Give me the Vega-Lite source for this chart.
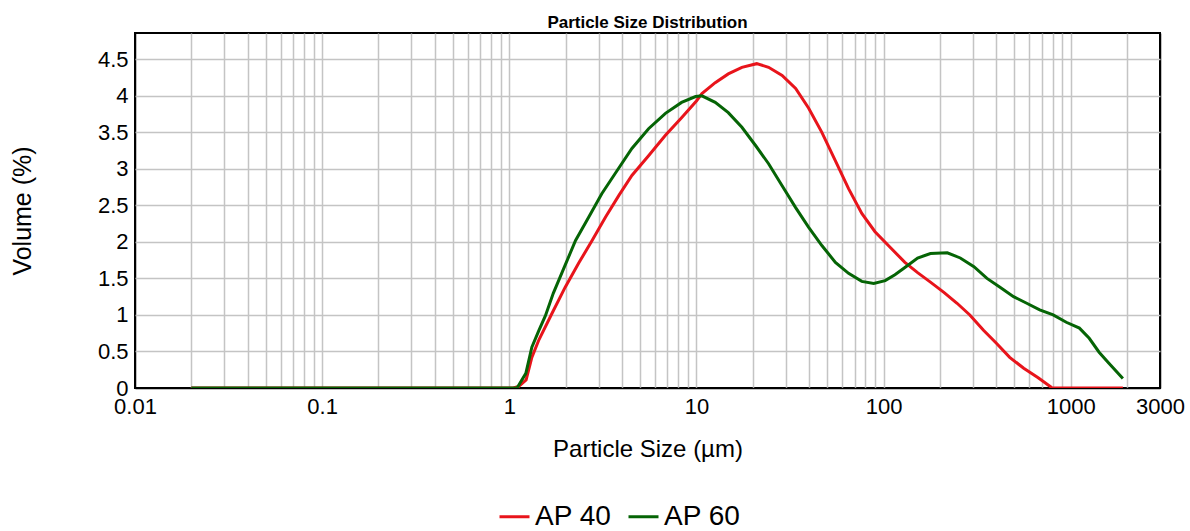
{
  "$schema": "https://vega.github.io/schema/vega-lite/v6.json",
  "width": 1025,
  "height": 355,
  "autosize": {"type": "none"},
  "padding": {"left": 135, "top": 33, "right": 30, "bottom": 143},
  "background": "#ffffff",
  "title": {"text": "Particle Size Distribution", "fontSize": 17, "fontWeight": "bold", "font": "Liberation Sans", "color": "#000000", "offset": 1, "frame": "group", "anchor": "middle"},
  "data": {"values": [
    {"size": 0.02, "volume": 0, "sample": "AP 40"},
    {"size": 1.05, "volume": 0, "sample": "AP 40"},
    {"size": 1.12, "volume": 0.02, "sample": "AP 40"},
    {"size": 1.23, "volume": 0.11, "sample": "AP 40"},
    {"size": 1.32, "volume": 0.42, "sample": "AP 40"},
    {"size": 1.44, "volume": 0.66, "sample": "AP 40"},
    {"size": 1.69, "volume": 1.02, "sample": "AP 40"},
    {"size": 1.99, "volume": 1.38, "sample": "AP 40"},
    {"size": 2.35, "volume": 1.71, "sample": "AP 40"},
    {"size": 2.77, "volume": 2.02, "sample": "AP 40"},
    {"size": 3.27, "volume": 2.34, "sample": "AP 40"},
    {"size": 3.86, "volume": 2.64, "sample": "AP 40"},
    {"size": 4.52, "volume": 2.91, "sample": "AP 40"},
    {"size": 5.55, "volume": 3.18, "sample": "AP 40"},
    {"size": 6.83, "volume": 3.46, "sample": "AP 40"},
    {"size": 8.33, "volume": 3.70, "sample": "AP 40"},
    {"size": 10.0, "volume": 3.93, "sample": "AP 40"},
    {"size": 10.7, "volume": 4.03, "sample": "AP 40"},
    {"size": 12.6, "volume": 4.18, "sample": "AP 40"},
    {"size": 14.8, "volume": 4.30, "sample": "AP 40"},
    {"size": 17.5, "volume": 4.39, "sample": "AP 40"},
    {"size": 21.0, "volume": 4.44, "sample": "AP 40"},
    {"size": 24.3, "volume": 4.39, "sample": "AP 40"},
    {"size": 28.7, "volume": 4.28, "sample": "AP 40"},
    {"size": 33.9, "volume": 4.10, "sample": "AP 40"},
    {"size": 39.8, "volume": 3.83, "sample": "AP 40"},
    {"size": 46.8, "volume": 3.50, "sample": "AP 40"},
    {"size": 55.3, "volume": 3.11, "sample": "AP 40"},
    {"size": 65.0, "volume": 2.73, "sample": "AP 40"},
    {"size": 76.5, "volume": 2.39, "sample": "AP 40"},
    {"size": 90, "volume": 2.14, "sample": "AP 40"},
    {"size": 110, "volume": 1.91, "sample": "AP 40"},
    {"size": 130, "volume": 1.72, "sample": "AP 40"},
    {"size": 152, "volume": 1.58, "sample": "AP 40"},
    {"size": 178, "volume": 1.45, "sample": "AP 40"},
    {"size": 210, "volume": 1.31, "sample": "AP 40"},
    {"size": 247, "volume": 1.16, "sample": "AP 40"},
    {"size": 289, "volume": 1.00, "sample": "AP 40"},
    {"size": 342, "volume": 0.79, "sample": "AP 40"},
    {"size": 402, "volume": 0.61, "sample": "AP 40"},
    {"size": 472, "volume": 0.42, "sample": "AP 40"},
    {"size": 561, "volume": 0.27, "sample": "AP 40"},
    {"size": 670, "volume": 0.14, "sample": "AP 40"},
    {"size": 787, "volume": 0.01, "sample": "AP 40"},
    {"size": 800, "volume": 0, "sample": "AP 40"},
    {"size": 1900, "volume": 0, "sample": "AP 40"},
    {"size": 0.02, "volume": 0, "sample": "AP 60"},
    {"size": 1.05, "volume": 0, "sample": "AP 60"},
    {"size": 1.1, "volume": 0, "sample": "AP 60"},
    {"size": 1.226, "volume": 0.2, "sample": "AP 60"},
    {"size": 1.32, "volume": 0.56, "sample": "AP 60"},
    {"size": 1.44, "volume": 0.79, "sample": "AP 60"},
    {"size": 1.56, "volume": 0.99, "sample": "AP 60"},
    {"size": 1.72, "volume": 1.3, "sample": "AP 60"},
    {"size": 1.95, "volume": 1.63, "sample": "AP 60"},
    {"size": 2.26, "volume": 2.02, "sample": "AP 60"},
    {"size": 2.66, "volume": 2.34, "sample": "AP 60"},
    {"size": 3.12, "volume": 2.66, "sample": "AP 60"},
    {"size": 3.71, "volume": 2.95, "sample": "AP 60"},
    {"size": 4.52, "volume": 3.28, "sample": "AP 60"},
    {"size": 5.55, "volume": 3.55, "sample": "AP 60"},
    {"size": 6.83, "volume": 3.76, "sample": "AP 60"},
    {"size": 8.33, "volume": 3.91, "sample": "AP 60"},
    {"size": 9.9, "volume": 3.99, "sample": "AP 60"},
    {"size": 10.7, "volume": 4.0, "sample": "AP 60"},
    {"size": 12.6, "volume": 3.91, "sample": "AP 60"},
    {"size": 14.8, "volume": 3.77, "sample": "AP 60"},
    {"size": 17.5, "volume": 3.57, "sample": "AP 60"},
    {"size": 20.7, "volume": 3.32, "sample": "AP 60"},
    {"size": 24.3, "volume": 3.07, "sample": "AP 60"},
    {"size": 28.7, "volume": 2.77, "sample": "AP 60"},
    {"size": 33.9, "volume": 2.47, "sample": "AP 60"},
    {"size": 39.8, "volume": 2.20, "sample": "AP 60"},
    {"size": 46.8, "volume": 1.95, "sample": "AP 60"},
    {"size": 55.3, "volume": 1.72, "sample": "AP 60"},
    {"size": 65.0, "volume": 1.57, "sample": "AP 60"},
    {"size": 76.5, "volume": 1.46, "sample": "AP 60"},
    {"size": 88.6, "volume": 1.43, "sample": "AP 60"},
    {"size": 102, "volume": 1.47, "sample": "AP 60"},
    {"size": 115, "volume": 1.55, "sample": "AP 60"},
    {"size": 130, "volume": 1.65, "sample": "AP 60"},
    {"size": 152, "volume": 1.78, "sample": "AP 60"},
    {"size": 178, "volume": 1.84, "sample": "AP 60"},
    {"size": 219, "volume": 1.85, "sample": "AP 60"},
    {"size": 257, "volume": 1.78, "sample": "AP 60"},
    {"size": 304, "volume": 1.66, "sample": "AP 60"},
    {"size": 357, "volume": 1.50, "sample": "AP 60"},
    {"size": 419, "volume": 1.38, "sample": "AP 60"},
    {"size": 495, "volume": 1.25, "sample": "AP 60"},
    {"size": 582, "volume": 1.16, "sample": "AP 60"},
    {"size": 683, "volume": 1.07, "sample": "AP 60"},
    {"size": 806, "volume": 1.00, "sample": "AP 60"},
    {"size": 947, "volume": 0.90, "sample": "AP 60"},
    {"size": 1113, "volume": 0.82, "sample": "AP 60"},
    {"size": 1256, "volume": 0.68, "sample": "AP 60"},
    {"size": 1418, "volume": 0.49, "sample": "AP 60"},
    {"size": 1600, "volume": 0.34, "sample": "AP 60"},
    {"size": 1900, "volume": 0.13, "sample": "AP 60"}
  ]},
  "mark": {"type": "line", "strokeWidth": 3, "interpolate": "linear", "clip": true},
  "encoding": {
    "x": {
      "field": "size", "type": "quantitative",
      "scale": {"type": "log", "domain": [0.01, 3000], "nice": false},
      "axis": {
        "title": "Particle Size (µm)",
        "values": [0.01,0.02,0.03,0.04,0.05,0.06,0.07,0.08,0.09,0.1,0.2,0.3,0.4,0.5,0.6,0.7,0.8,0.9,1,2,3,4,5,6,7,8,9,10,20,30,40,50,60,70,80,90,100,200,300,400,500,600,700,800,900,1000,2000,3000],
        "labelExpr": "indexof([0.01,0.1,1,10,100,1000,3000], datum.value) >= 0 ? format(datum.value, '~g') : ''",
        "labelOverlap": false,
        "labelFlush": false,
        "labelBound": false,
        "labelPadding": 8,
        "titlePadding": 20,
        "titleFontSize": 24,
        "gridColor": {"condition": {"test": "datum.value == 0.01 || datum.value == 3000", "value": "#000000"}, "value": "#c4c4c4"}
      }
    },
    "y": {
      "field": "volume", "type": "quantitative",
      "scale": {"domain": [0, 4.86], "nice": false, "zero": true},
      "axis": {
        "title": "Volume (%)",
        "values": [0,0.5,1,1.5,2,2.5,3,3.5,4,4.5],
        "format": "~g",
        "labelPadding": 7,
        "titlePadding": 62,
        "titleFontSize": 25,
        "gridColor": {"condition": {"test": "datum.value == 0", "value": "#000000"}, "value": "#c4c4c4"}
      }
    },
    "color": {
      "field": "sample", "type": "nominal",
      "scale": {"domain": ["AP 40", "AP 60"], "range": ["#e8141b", "#056405"]},
      "legend": {
        "title": null,
        "orient": "none",
        "direction": "horizontal",
        "legendX": 363,
        "legendY": 467,
        "symbolType": "stroke",
        "symbolSize": 900,
        "symbolStrokeWidth": 3,
        "labelFontSize": 28,
        "labelFont": "Liberation Sans",
        "labelColor": "#000000",
        "labelOffset": 4,
        "columnPadding": 10
      }
    }
  },
  "config": {
    "view": {"stroke": "#000000", "strokeWidth": 2},
    "axis": {
      "domain": false,
      "ticks": false,
      "grid": true,
      "gridWidth": 1.5,
      "labelFont": "Liberation Sans",
      "labelFontSize": 22,
      "labelColor": "#000000",
      "titleFont": "Liberation Sans",
      "titleFontWeight": "normal",
      "titleColor": "#000000"
    }
  }
}
